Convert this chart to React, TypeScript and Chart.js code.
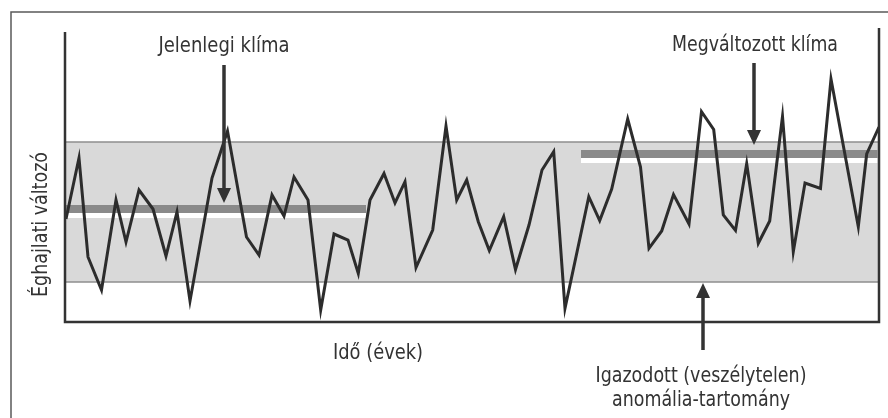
import React, { useEffect, useRef } from "react";
import { Chart, registerables } from "chart.js";

Chart.register(...registerables);

// Idő (tetszőleges egységek) és éghajlati változó értékei
const timeValues = [
  1, 14, 23, 36.5, 51, 61, 74, 88, 101, 112, 125, 147, 162.5, 181.5, 194, 207,
  219, 229, 243, 255.7, 269, 283, 293.3, 305, 319, 330, 340, 351, 367.7, 381,
  391.7, 401.7, 413.3, 424.3, 438.7, 450.5, 464, 477, 488.7, 500, 523.8, 534.7,
  546.7, 562.7, 575.5, 584, 596.7, 608.5, 624, 636.5, 648.7, 658.3, 670.5,
  681.7, 693.3, 704.7, 717.5, 728.3, 740, 755.5, 766, 793.3, 801.7, 814,
];
const climateValues = [
  103, 164, 65, 32, 122, 80, 132, 113, 66, 110, 21, 144, 191, 85, 67, 127, 106,
  145, 122, 12, 88, 82, 48.5, 122, 148.5, 119, 140.3, 54.5, 92, 196, 122, 142,
  100.3, 71.5, 105.3, 52.5, 97, 152, 170.3, 13.7, 125.3, 101.5, 133, 203, 155,
  73.7, 91, 127.5, 98, 210.3, 192.5, 107, 91.5, 158.3, 78.7, 101, 205.5, 70.3,
  139, 133.5, 243, 95.3, 168, 195,
];

// Jelenlegi és megváltozott klíma átlaga (kezdet, vég, érték)
const currentMeanRange = [0, 301];
const currentMeanValue = 113;
const changedMeanRange = [516, 812.5];
const changedMeanValue = 168;

// Igazodott (veszélytelen) anomália-tartomány
const bandLow = 40;
const bandHigh = 180;

const xMin = 0;
const xMax = 814;
const yMin = 0;
const yMax = 292;

const labels = {
  current: "Jelenlegi klíma",
  changed: "Megváltozott klíma",
  coping1: "Igazodott (veszélytelen)",
  coping2: "anomália-tartomány",
  xTitle: "Idő (évek)",
  yTitle: "Éghajlati változó",
};

const FONT = "'Liberation Sans Narrow', 'DejaVu Sans Condensed', 'Roboto', sans-serif";
const INK = "#333333";

function fitText(
  ctx: CanvasRenderingContext2D,
  text: string,
  cx: number,
  baseline: number,
  width: number
) {
  ctx.save();
  ctx.font = `22px ${FONT}`;
  ctx.textAlign = "center";
  ctx.textBaseline = "alphabetic";
  const w = ctx.measureText(text).width;
  const s = width / w;
  ctx.translate(cx, baseline);
  ctx.scale(s, 1);
  ctx.fillStyle = INK;
  ctx.fillText(text, 0, 0);
  ctx.restore();
}

function arrow(
  ctx: CanvasRenderingContext2D,
  x: number,
  fromY: number,
  tipY: number
) {
  const dir = tipY > fromY ? 1 : -1;
  const headLen = 15;
  const half = 7;
  ctx.save();
  ctx.strokeStyle = INK;
  ctx.fillStyle = INK;
  ctx.lineWidth = 3.5;
  ctx.beginPath();
  ctx.moveTo(x, fromY);
  ctx.lineTo(x, tipY - dir * headLen + dir * 2);
  ctx.stroke();
  ctx.beginPath();
  ctx.moveTo(x, tipY);
  ctx.lineTo(x - half, tipY - dir * headLen);
  ctx.lineTo(x + half, tipY - dir * headLen);
  ctx.closePath();
  ctx.fill();
  ctx.restore();
}

const decorPlugin = {
  id: "decor",
  beforeDatasetsDraw(chart: any) {
    const { ctx, chartArea, scales } = chart;
    const y = scales.y;
    const x = scales.x;
    const top = y.getPixelForValue(bandHigh);
    const bottom = y.getPixelForValue(bandLow);
    ctx.save();
    ctx.fillStyle = "#d9d9d9";
    ctx.fillRect(chartArea.left, top, chartArea.right - chartArea.left, bottom - top);
    ctx.strokeStyle = "#8f8f8f";
    ctx.lineWidth = 1.5;
    ctx.beginPath();
    ctx.moveTo(chartArea.left, top);
    ctx.lineTo(chartArea.right, top);
    ctx.moveTo(chartArea.left, bottom);
    ctx.lineTo(chartArea.right, bottom);
    ctx.stroke();
    // white stripes below the mean lines
    ctx.strokeStyle = "#ffffff";
    ctx.lineWidth = 5;
    ctx.beginPath();
    const m1 = y.getPixelForValue(currentMeanValue) + 6.5;
    ctx.moveTo(x.getPixelForValue(currentMeanRange[0]), m1);
    ctx.lineTo(x.getPixelForValue(currentMeanRange[1]), m1);
    const m2 = y.getPixelForValue(changedMeanValue) + 6.5;
    ctx.moveTo(x.getPixelForValue(changedMeanRange[0]), m2);
    ctx.lineTo(x.getPixelForValue(changedMeanRange[1]), m2);
    ctx.stroke();
    ctx.restore();
  },
  afterDraw(chart: any) {
    const { ctx, chartArea, scales } = chart;
    const y = scales.y;
    const x = scales.x;
    ctx.save();
    // outer frame
    ctx.strokeStyle = "#5a5a5a";
    ctx.lineWidth = 1.5;
    ctx.beginPath();
    ctx.moveTo(11, 418);
    ctx.lineTo(11, 12);
    ctx.lineTo(888, 12);
    ctx.stroke();
    // axes
    ctx.strokeStyle = INK;
    ctx.lineWidth = 2.5;
    ctx.beginPath();
    ctx.moveTo(chartArea.left, chartArea.top + 2);
    ctx.lineTo(chartArea.left, chartArea.bottom);
    ctx.lineTo(chartArea.right, chartArea.bottom);
    ctx.lineTo(chartArea.right, chartArea.top - 2);
    ctx.stroke();
    ctx.restore();

    // arrows
    const m1 = y.getPixelForValue(currentMeanValue);
    const m2 = y.getPixelForValue(changedMeanValue);
    arrow(ctx, 224, 65, m1 - 6);
    arrow(ctx, 754, 63, m2 - 9);
    arrow(ctx, 703, 350, y.getPixelForValue(bandLow) + 1);

    // texts
    fitText(ctx, labels.current, 224, 51.5, 131);
    fitText(ctx, labels.changed, 755, 51, 166);
    fitText(ctx, labels.coping1, 701, 381.5, 211);
    fitText(ctx, labels.coping2, 701, 406, 178);
    fitText(ctx, labels.xTitle, 378, 359, 90);

    ctx.save();
    ctx.translate(47, 224.5);
    ctx.rotate(-Math.PI / 2);
    fitText(ctx, labels.yTitle, 0, 0, 145);
    ctx.restore();
  },
};

export default function App() {
  const canvasRef = useRef<HTMLCanvasElement | null>(null);

  useEffect(() => {
    if (!canvasRef.current) return;
    const chart = new Chart(canvasRef.current, {
      type: "line",
      data: {
        datasets: [
          {
            label: labels.yTitle,
            data: timeValues.map((t, i) => ({ x: t, y: climateValues[i] })),
            borderColor: "#2c2c2c",
            borderWidth: 3,
            pointRadius: 0,
            tension: 0,
            borderJoinStyle: "miter",
            order: 0,
          },
          {
            label: labels.current,
            data: [
              { x: currentMeanRange[0], y: currentMeanValue },
              { x: currentMeanRange[1], y: currentMeanValue },
            ],
            borderColor: "#8a8a8a",
            borderWidth: 8,
            borderCapStyle: "butt",
            pointRadius: 0,
            order: 1,
          },
          {
            label: labels.changed,
            data: [
              { x: changedMeanRange[0], y: changedMeanValue },
              { x: changedMeanRange[1], y: changedMeanValue },
            ],
            borderColor: "#8a8a8a",
            borderWidth: 8,
            borderCapStyle: "butt",
            pointRadius: 0,
            order: 1,
          },
        ],
      },
      options: {
        animation: false,
        responsive: true,
        maintainAspectRatio: false,
        layout: { padding: { left: 65, right: 9, top: 30, bottom: 96 } },
        plugins: {
          legend: { display: false },
          tooltip: { enabled: false },
        },
        scales: {
          x: { type: "linear", min: xMin, max: xMax, display: false },
          y: { type: "linear", min: yMin, max: yMax, display: false },
        },
      },
      plugins: [decorPlugin],
    });
    return () => chart.destroy();
  }, []);

  return (
    <div
      style={{
        position: "fixed",
        left: 0,
        top: 0,
        width: 888,
        height: 418,
        background: "#ffffff",
      }}
    >
      <canvas ref={canvasRef} />
    </div>
  );
}
